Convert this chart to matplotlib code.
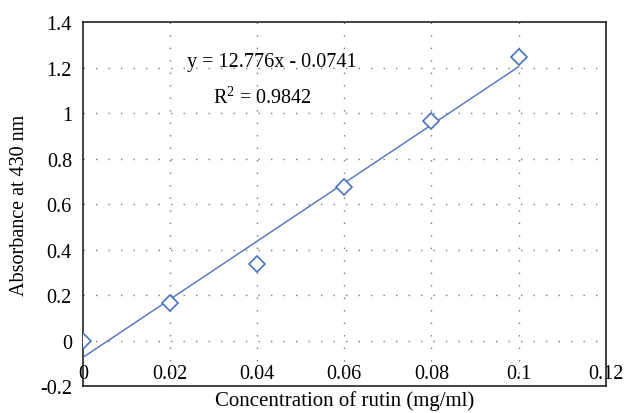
import numpy as np
import matplotlib
matplotlib.use("Agg")
import matplotlib.pyplot as plt

plt.rcParams.update({'font.family': 'Liberation Serif', 'font.size': 12,
                     'mathtext.fontset': 'custom',
                     'mathtext.rm': 'Liberation Serif'})

conc = [0.0, 0.02, 0.04, 0.06, 0.08, 0.10]
absorb = [0.0, 0.165, 0.335, 0.675, 0.965, 1.245]
slope, intercept = 12.776, -0.0741
xticks = [0, 0.02, 0.04, 0.06, 0.08, 0.1, 0.12]
xtick_labels = ['0', '0.02', '0.04', '0.06', '0.08', '0.1', '0.12']
yticks = [-0.2, 0, 0.2, 0.4, 0.6, 0.8, 1, 1.2, 1.4]
ytick_labels = ['-0.2', '0', '0.2', '0.4', '0.6', '0.8', '1', '1.2', '1.4']

blue = '#4a72c0'

fig = plt.figure(figsize=(6.26, 4.14), dpi=100)
ax = fig.add_axes([0.1326, 0.0652, 0.835, 0.8792])

fit_x = np.array([conc[0], conc[-1]])
ax.plot(fit_x, slope * fit_x + intercept, color=blue, lw=1.0, zorder=3)
ax.plot(conc, absorb, 'D', ms=8, mfc='white', mec=blue, mew=1.2, zorder=4)

ax.set_xlim(0, 0.12)
ax.set_ylim(-0.2, 1.4)
ax.set_xticks(xticks)
ax.set_xticklabels(xtick_labels)
ax.set_yticks(yticks)
ax.set_yticklabels(ytick_labels)
ax.tick_params(axis='both', length=0, labelsize=14.5)
ax.tick_params(axis='x', pad=-16)
ax.tick_params(axis='y', pad=8)

for v in [0.02, 0.04, 0.06, 0.08, 0.1]:
    ax.axvline(v, color='#777777', lw=1.0, ls=(0, (1, 8)), zorder=1)
for v in [0, 0.2, 0.4, 0.6, 0.8, 1, 1.2]:
    ax.axhline(v, color='#777777', lw=1.0, ls=(0, (1, 8)), zorder=1)

for s in ax.spines.values():
    s.set_linewidth(1.2)
    s.set_color('#222222')

ax.text(0.0434, 1.225, 'y = 12.776x - 0.0741', ha='center', va='center', fontsize=14.5)
ax.text(0.0413, 1.07, r'R$^\mathrm{2}$ = 0.9842', ha='center', va='center', fontsize=14.5)

ax.set_xlabel('Concentration of rutin (mg/ml)', fontsize=15)
ax.xaxis.set_label_coords(0.5, -0.012)
ax.set_ylabel('Absorbance at 430 nm', fontsize=14.5, labelpad=8)

fig.savefig('out.png', dpi=100)
